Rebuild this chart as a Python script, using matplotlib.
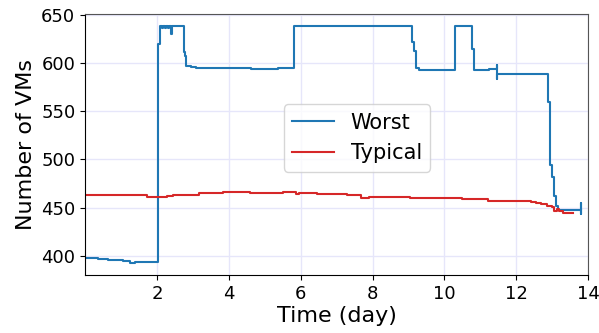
import matplotlib
matplotlib.use("Agg")
import matplotlib.pyplot as plt

# Worst case: number of VMs over time (step changes, day / count)
worst_t = [0, 0.35, 0.65, 1.05, 1.25, 1.32, 1.38, 2.02, 2.08, 2.14, 2.18,
           2.22, 2.26, 2.30, 2.34, 2.40, 2.43, 2.74, 2.78, 2.82, 2.95, 3.10,
           4.61, 5.36, 5.81, 9.11, 9.15, 9.22, 9.30, 10.30, 10.77, 10.83,
           11.25, 11.46, 11.46, 11.47, 12.89, 12.93, 12.98, 13.05, 13.10,
           13.16, 13.80, 13.80, 13.80]
worst_vms = [398, 397, 396, 395, 393, 392, 394, 620, 639, 636, 639,
             636, 639, 636, 639, 630, 639, 612, 607, 597, 596, 595,
             594, 595, 639, 622, 613, 595, 593, 639, 615, 593,
             594, 598, 583, 589, 560, 494, 482, 462, 452,
             448, 455, 443, 448]

# Typical case
typical_t = [0, 1.71, 2.28, 2.45, 3.17, 3.84, 4.60, 5.50, 5.88, 5.95, 6.44,
             7.30, 7.68, 7.90, 9.03, 10.49, 11.20, 12.40, 12.55, 12.70,
             12.85, 13.00, 13.05, 13.12, 13.20, 13.30, 13.58]
typical_vms = [463, 461, 462, 463, 465, 466, 465, 466, 464, 465, 464,
               463, 460, 461, 460, 459, 457, 456, 455, 454,
               452, 451, 446, 449, 447, 444, 444]

day_ticks = [2, 4, 6, 8, 10, 12, 14]
vm_ticks = [400, 450, 500, 550, 600, 650]

fig = plt.figure(figsize=(5.99, 3.33), dpi=100)
ax = fig.add_axes([0.142, 0.174, 0.840, 0.784])

ax.step(worst_t, worst_vms, where="post", color="#1f77b4", lw=1.5, label="Worst")
ax.step(typical_t, typical_vms, where="post", color="#d62728", lw=1.5, label="Typical")

ax.set_xlim(0, 14)
ax.set_ylim(380, 651)
ax.set_xticks(day_ticks)
ax.set_yticks(vm_ticks)
ax.tick_params(labelsize=13)
ax.grid(True, color="#e6e6fa", lw=1.0)
ax.set_axisbelow(True)

for side in ["top", "right"]:
    ax.spines[side].set_color("#555555")

ax.set_xlabel("Time (day)", fontsize=16, labelpad=2)
ax.set_ylabel("Number of VMs", fontsize=16, labelpad=4)

ax.legend(fontsize=15, loc="center", bbox_to_anchor=(0.541, 0.525))

fig.savefig("out.png", dpi=100)
